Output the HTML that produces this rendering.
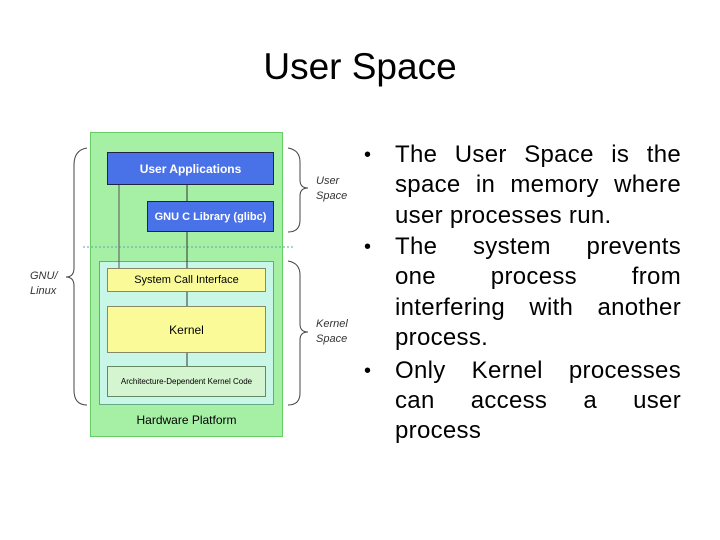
<!DOCTYPE html>
<html><head><meta charset="utf-8"><style>
body{margin:0;width:720px;height:540px;background:#fff;position:relative;overflow:hidden;font-family:"Liberation Sans",sans-serif}
.t{position:absolute;left:0;width:720px;top:44px;text-align:center;font-size:37px;line-height:46px;color:#000}
.l{position:absolute;left:395px;width:286px;font-size:24px;letter-spacing:0.3px;line-height:28px;color:#000;white-space:nowrap}
.j{text-align:justify;text-align-last:justify;white-space:normal}
.b{position:absolute;left:364px;font-size:20px;line-height:28px}
.bx{position:absolute;box-sizing:border-box;display:flex;align-items:center;justify-content:center;font-size:12px}
.it{position:absolute;font-style:italic;font-size:11px;color:#333;line-height:15px}
</style></head><body>
<div class="t">User Space</div>

<div class="b" style="top:141px">•</div>
<div class="l j" style="top:141px">The User Space is the</div>
<div class="l j" style="top:171px">space in memory where</div>
<div class="l" style="top:202px">user processes run.</div>
<div class="b" style="top:233px">•</div>
<div class="l j" style="top:233px">The system prevents</div>
<div class="l j" style="top:263px">one process from</div>
<div class="l j" style="top:294px">interfering with another</div>
<div class="l" style="top:324px">process.</div>
<div class="b" style="top:357px">•</div>
<div class="l j" style="top:357px">Only Kernel processes</div>
<div class="l j" style="top:387px">can access a user</div>
<div class="l" style="top:417px">process</div>

<div class="bx" style="left:90px;top:132px;width:193px;height:305px;background:#a6f0a6;border:1px solid #6c6"></div>
<div class="bx" style="left:99px;top:261px;width:175px;height:144px;background:#c8f7e8;border:1px solid #6a8"></div>
<svg style="position:absolute;left:0;top:0" width="720" height="540">
<line x1="83" y1="247" x2="294" y2="247" stroke="#5aa" stroke-dasharray="2,2"/>
<line x1="119" y1="185" x2="119" y2="268" stroke="#555"/>
<line x1="187" y1="185" x2="187" y2="366" stroke="#333"/>
<path d="M87 148 Q74 150 74 165 L74 268 Q74 277 66 277 Q74 277 74 286 L74 390 Q74 405 87 405" fill="none" stroke="#444"/>
<path d="M288 148 Q300 150 300 162 L300 180 Q300 188 308 188 Q300 188 300 196 L300 220 Q300 232 288 232" fill="none" stroke="#444"/>
<path d="M288 261 Q300 263 300 275 L300 324 Q300 332 308 332 Q300 332 300 340 L300 393 Q300 405 288 405" fill="none" stroke="#444"/>
</svg>
<div class="bx" style="left:107px;top:152px;width:167px;height:33px;background:#4a72e8;border:1px solid #224;color:#fff;font-weight:bold">User Applications</div>
<div class="bx" style="left:147px;top:201px;width:127px;height:31px;background:#4a72e8;border:1px solid #224;color:#fff;font-weight:bold;font-size:11px">GNU C Library (glibc)</div>
<div class="bx" style="left:107px;top:268px;width:159px;height:24px;background:#fafa98;border:1px solid #886;font-size:11px">System Call Interface</div>
<div class="bx" style="left:107px;top:306px;width:159px;height:47px;background:#fafa98;border:1px solid #886">Kernel</div>
<div class="bx" style="left:107px;top:366px;width:159px;height:31px;background:#d4f5d0;border:1px solid #686;font-size:8px">Architecture-Dependent Kernel Code</div>
<div class="bx" style="left:90px;top:410px;width:193px;height:20px;font-size:12px">Hardware Platform</div>
<div class="it" style="left:30px;top:269px">GNU/<br>Linux</div>
<div class="it" style="left:316px;top:174px">User<br>Space</div>
<div class="it" style="left:316px;top:317px">Kernel<br>Space</div>
</body></html>
